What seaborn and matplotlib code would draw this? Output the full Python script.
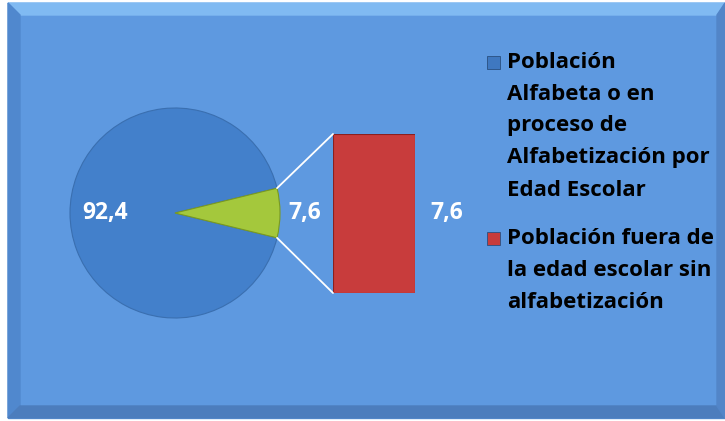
import numpy as np
import matplotlib.pyplot as plt
import seaborn as sns
import pandas as pd
from matplotlib.patches import Polygon, Rectangle, ConnectionPatch

sns.set_style("white")
plt.rcParams['font.family'] = ['Open Sans', 'DejaVu Sans']

# --- data ---
pie_labels = ['Población Alfabeta o en proceso de Alfabetización por Edad Escolar', 'Otros']
pie_values = [92.4, 7.6]
bar_labels = ['Población fuera de la edad escolar sin alfabetización']
bar_values = [7.6]
legend_lines = [
    ['Población', 'Alfabeta o en', 'proceso de', 'Alfabetización por', 'Edad Escolar'],
    ['Población fuera de', 'la edad escolar sin', 'alfabetización'],
]

BG = '#5E99E0'
PIE_BLUE = '#4380CB'
GREEN = '#A4C83C'
RED = '#C83C3C'

W, H = 725, 421
fig = plt.figure(figsize=(W / 100, H / 100), dpi=100)

# --- background panel with bevel ---
bg = fig.add_axes([0, 0, 1, 1])
bg.set_xlim(0, W)
bg.set_ylim(H, 0)
bg.axis('off')
x0, y0, x1, y1, b = 8, 3, 725, 418, 12
bg.add_patch(Rectangle((x0, y0), x1 - x0, y1 - y0, color=BG, zorder=0))
bg.add_patch(Polygon([(x0, y0), (x1, y0), (x1 - 8, y0 + b), (x0 + b, y0 + b)], color='#80BAF2', zorder=1))
bg.add_patch(Polygon([(x0, y0), (x0 + b, y0 + b), (x0 + b, y1 - b), (x0, y1)], color='#5088CE', zorder=1))
bg.add_patch(Polygon([(x0, y1), (x0 + b, y1 - b), (x1 - 8, y1 - b), (x1, y1)], color='#4C7DBD', zorder=1))
bg.add_patch(Polygon([(x1, y0), (x1 - 8, y0 + b), (x1 - 8, y1 - b), (x1, y1)], color='#5285C8', zorder=1))

# --- pie ---
cx, cy, r = 175, 213, 105
pie_ax = fig.add_axes([(cx - r) / W, (H - cy - r) / H, 2 * r / W, 2 * r / H])
share = pie_values[1] / sum(pie_values) * 360
start = share / 2
wedges, _ = pie_ax.pie(pie_values, colors=[PIE_BLUE, GREEN], startangle=start,
                       wedgeprops=dict(edgecolor='#3A6FB0', linewidth=0.8))
wedges[1].set_edgecolor('#7A9A20')
pie_ax.set_xlim(-1, 1)
pie_ax.set_ylim(-1, 1)
pie_ax.set_aspect('auto')
pie_ax.axis('off')
pie_ax.text(-0.67, 0, f'{pie_values[0]:.1f}'.replace('.', ','), color='white',
            fontsize=16.5, fontweight='bold', ha='center', va='center')
pie_ax.text(1.24, 0, f'{pie_values[1]:.1f}'.replace('.', ','), color='white',
            fontsize=16.5, fontweight='bold', ha='center', va='center')

# --- bar of pie ---
bx0, bx1, by0, by1 = 333, 415, 134, 293
bar_ax = fig.add_axes([bx0 / W, (H - by1) / H, (bx1 - bx0) / W, (by1 - by0) / H])
df_bar = pd.DataFrame({'cat': bar_labels, 'val': bar_values})
sns.barplot(data=df_bar, x='cat', y='val', ax=bar_ax, color=RED, width=1.0,
            edgecolor='#8A2020', linewidth=0.8, saturation=1)
bar_ax.set_xlim(-0.5, 0.5)
bar_ax.set_ylim(0, bar_values[0])
bar_ax.axis('off')
bar_ax.text(0.89, bar_values[0] / 2, f'{bar_values[0]:.1f}'.replace('.', ','),
            color='white', fontsize=16.5, fontweight='bold', ha='center', va='center')

# connector lines from green slice edges to bar corners
a = np.deg2rad(share / 2)
for sgn, yb in [(1, bar_values[0]), (-1, 0)]:
    con = ConnectionPatch(xyA=(np.cos(a), sgn * np.sin(a)), coordsA=pie_ax.transData,
                          xyB=(-0.5, yb), coordsB=bar_ax.transData,
                          color='white', linewidth=1.3)
    fig.add_artist(con)

# --- legend (manual, multi-line) ---
lg_colors = ['#3F78C0', RED]
starts = [62, 238]
line_h = 32
for lines, col, ys in zip(legend_lines, lg_colors, starts):
    bg.add_patch(Rectangle((487, ys - 6), 13, 13, facecolor=col, edgecolor='#2A4F80', linewidth=0.6, zorder=3))
    for i, ln in enumerate(lines):
        bg.text(507, ys + i * line_h, ln, fontsize=16, fontweight='bold',
                color='black', ha='left', va='center', zorder=3)

fig.savefig('out.png', dpi=100)
